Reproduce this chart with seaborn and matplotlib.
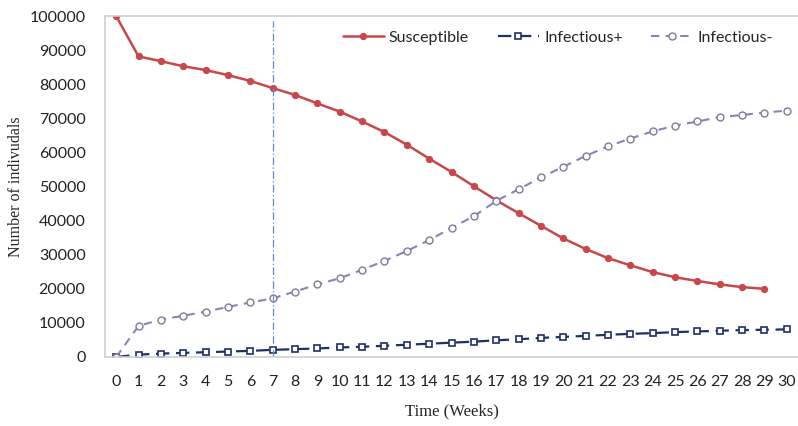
import numpy as np
import pandas as pd
import matplotlib
matplotlib.use("Agg")
import matplotlib.pyplot as plt
import seaborn as sns

# Data
weeks = list(range(31))
susceptible = [100000, 88200, 86800, 85300, 84200, 82700, 81000, 78900, 76900, 74400,
               72000, 69100, 66000, 62300, 58200, 54300, 50100, 46000, 42200, 38500,
               34800, 31700, 29000, 26900, 24900, 23400, 22300, 21300, 20500, 20000]
infectious_pos = [0, 700, 1000, 1200, 1400, 1600, 1800, 2100, 2300, 2500,
                  2800, 3000, 3300, 3600, 3900, 4200, 4500, 4900, 5200, 5600,
                  5900, 6200, 6500, 6800, 7000, 7300, 7500, 7700, 7900, 8000, 8100]
infectious_neg = [0, 9100, 11000, 12100, 13300, 14700, 16000, 17200, 19200, 21300,
                  23100, 25600, 28200, 31100, 34300, 37900, 41300, 45800, 49200, 52700,
                  55800, 59000, 61800, 64100, 66200, 67900, 69100, 70400, 71000, 71700, 72300]
marker_week = 7

sns.set_style("white")
plt.rcParams['font.family'] = ['Lato', 'DejaVu Sans']

fig = plt.figure(figsize=(7.98, 4.26), dpi=100)
ax = fig.add_axes([0.1316, 0.162, 0.8684, 0.8])

red = "#c8474a"
navy = "#1f2f68"
lav = "#8c80bd"

sns.lineplot(x=weeks[:len(susceptible)], y=susceptible, ax=ax, color=red, lw=1.8,
             marker='o', markersize=4.5, markeredgecolor=red, label="Susceptible")
sns.lineplot(x=weeks, y=infectious_pos, ax=ax, color=navy, lw=1.6, linestyle=(0, (6, 3)),
             marker='s', markersize=5, markerfacecolor='white', markeredgecolor=navy,
             markeredgewidth=1.2, label="Infectious+")
sns.lineplot(x=weeks, y=infectious_neg, ax=ax, color=lav, lw=1.5, linestyle=(0, (4, 3)),
             marker='o', markersize=5, markerfacecolor='white', markeredgecolor="#7f7a9a",
             markeredgewidth=1.0, label="Infectious-")

ax.axvline(marker_week, ymin=0, ymax=0.985, color="#5b8fd0", lw=0.9, linestyle=(0, (6, 2, 1, 2)))

ax.set_xlim(-0.5, 30.5)
ax.set_ylim(0, 100000)
ax.set_xticks(weeks)
ax.set_yticks(np.arange(0, 100001, 10000))
ax.tick_params(axis='both', length=0, labelsize=11.5, colors="#222222")
ax.tick_params(axis='x', pad=13)
ax.tick_params(axis='y', pad=14)

for side in ['left', 'bottom', 'top']:
    ax.spines[side].set_color("#cfcfcf")
    ax.spines[side].set_linewidth(1.2)
ax.spines['right'].set_visible(False)

ax.set_xlabel("Time (Weeks)", family='Liberation Serif', fontsize=12, labelpad=10)
ax.set_ylabel("Number of indivudals", family='Liberation Serif', fontsize=11.5, labelpad=4)

ax.legend(loc='upper right', bbox_to_anchor=(0.985, 1.0), ncol=3, frameon=False,
          fontsize=11.5, handlelength=2.6, columnspacing=1.8, handletextpad=0.3)

fig.savefig("out.png", dpi=100)
